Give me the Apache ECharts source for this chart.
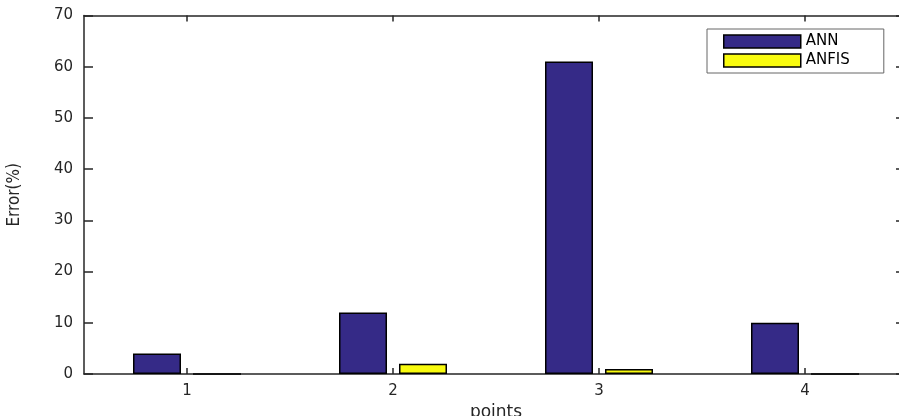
<!DOCTYPE html>
<html>
<head>
<meta charset="utf-8">
<script src="https://cdn.jsdelivr.net/npm/echarts@6/dist/echarts.min.js"></script>
<style>
html,body{margin:0;padding:0;background:#fff;}
#chart{width:899px;height:416px;}
</style>
</head>
<body>
<div id="chart"></div>
<script>
const categories = ['1', '2', '3', '4'];
const annValues = [4, 12, 61, 10];
const anfisValues = [0, 2, 1, 0];
const seriesNames = ['ANN', 'ANFIS'];
const yTicks = { min: 0, max: 70, interval: 10 };

const axisColor = '#262626';
const tickFont = 'DejaVu Sans, sans-serif';

const chart = echarts.init(document.getElementById('chart'));
chart.setOption({
  backgroundColor: '#ffffff',
  animation: false,
  grid: { left: 84, right: -9, top: 15.5, bottom: 42, containLabel: false, outerBoundsMode: 'none' },
  legend: {
    orient: 'vertical',
    left: 707,
    top: 29,
    padding: [5, 34, 5, 16],
    itemWidth: 77,
    itemHeight: 13,
    itemGap: 4,
    icon: 'rect',
    borderColor: '#666666',
    borderWidth: 1,
    backgroundColor: '#ffffff',
    itemStyle: { borderColor: '#000000', borderWidth: 1.5 },
    textStyle: { fontFamily: tickFont, fontSize: 15, color: '#000000' },
    data: seriesNames
  },
  xAxis: [
    {
      type: 'category',
      data: categories,
      position: 'bottom',
      boundaryGap: true,
      name: 'points',
      nameLocation: 'middle',
      nameGap: 26,
      nameTextStyle: { fontFamily: tickFont, fontSize: 17, color: axisColor },
      axisLine: { show: true, onZero: false, lineStyle: { color: axisColor, width: 1.5 } },
      axisTick: { show: true, inside: true, length: 6, alignWithLabel: true, lineStyle: { color: axisColor, width: 1.5 } },
      axisLabel: { fontFamily: tickFont, fontSize: 15, color: axisColor, margin: 10 },
      splitLine: { show: false }
    },
    {
      type: 'category',
      data: categories,
      position: 'top',
      boundaryGap: true,
      axisLine: { show: true, onZero: false, lineStyle: { color: axisColor, width: 1.5 } },
      axisTick: { show: true, inside: true, length: 6, alignWithLabel: true, lineStyle: { color: axisColor, width: 1.5 } },
      axisLabel: { show: false },
      splitLine: { show: false }
    }
  ],
  yAxis: [
    {
      type: 'value',
      position: 'left',
      min: yTicks.min,
      max: yTicks.max,
      interval: yTicks.interval,
      name: 'Error(%)',
      nameLocation: 'middle',
      nameGap: 61,
      nameTextStyle: { fontFamily: 'Liberation Sans Narrow, DejaVu Sans Condensed, sans-serif', fontSize: 17, color: axisColor },
      axisLine: { show: true, onZero: false, lineStyle: { color: axisColor, width: 1.5 } },
      axisTick: { show: true, inside: true, length: 9, lineStyle: { color: axisColor, width: 1.5 } },
      axisLabel: { fontFamily: tickFont, fontSize: 15, color: axisColor, margin: 11 },
      splitLine: { show: false }
    },
    {
      type: 'value',
      position: 'right',
      min: yTicks.min,
      max: yTicks.max,
      interval: yTicks.interval,
      axisLine: { show: true, onZero: false, lineStyle: { color: axisColor, width: 1.5 } },
      axisTick: { show: true, inside: true, length: 12, lineStyle: { color: axisColor, width: 1.5 } },
      axisLabel: { show: false },
      splitLine: { show: false }
    }
  ],
  series: [
    {
      name: seriesNames[0],
      type: 'bar',
      xAxisIndex: 0,
      yAxisIndex: 0,
      data: annValues,
      barWidth: 48,
      barGap: '25%',
      itemStyle: { color: '#352A87', borderColor: '#000000', borderWidth: 1.5 }
    },
    {
      name: seriesNames[1],
      type: 'bar',
      xAxisIndex: 0,
      yAxisIndex: 0,
      data: anfisValues,
      barWidth: 48,
      barGap: '25%',
      itemStyle: { color: '#F9FB0E', borderColor: '#000000', borderWidth: 1.5 }
    }
  ]
});
</script>
</body>
</html>
